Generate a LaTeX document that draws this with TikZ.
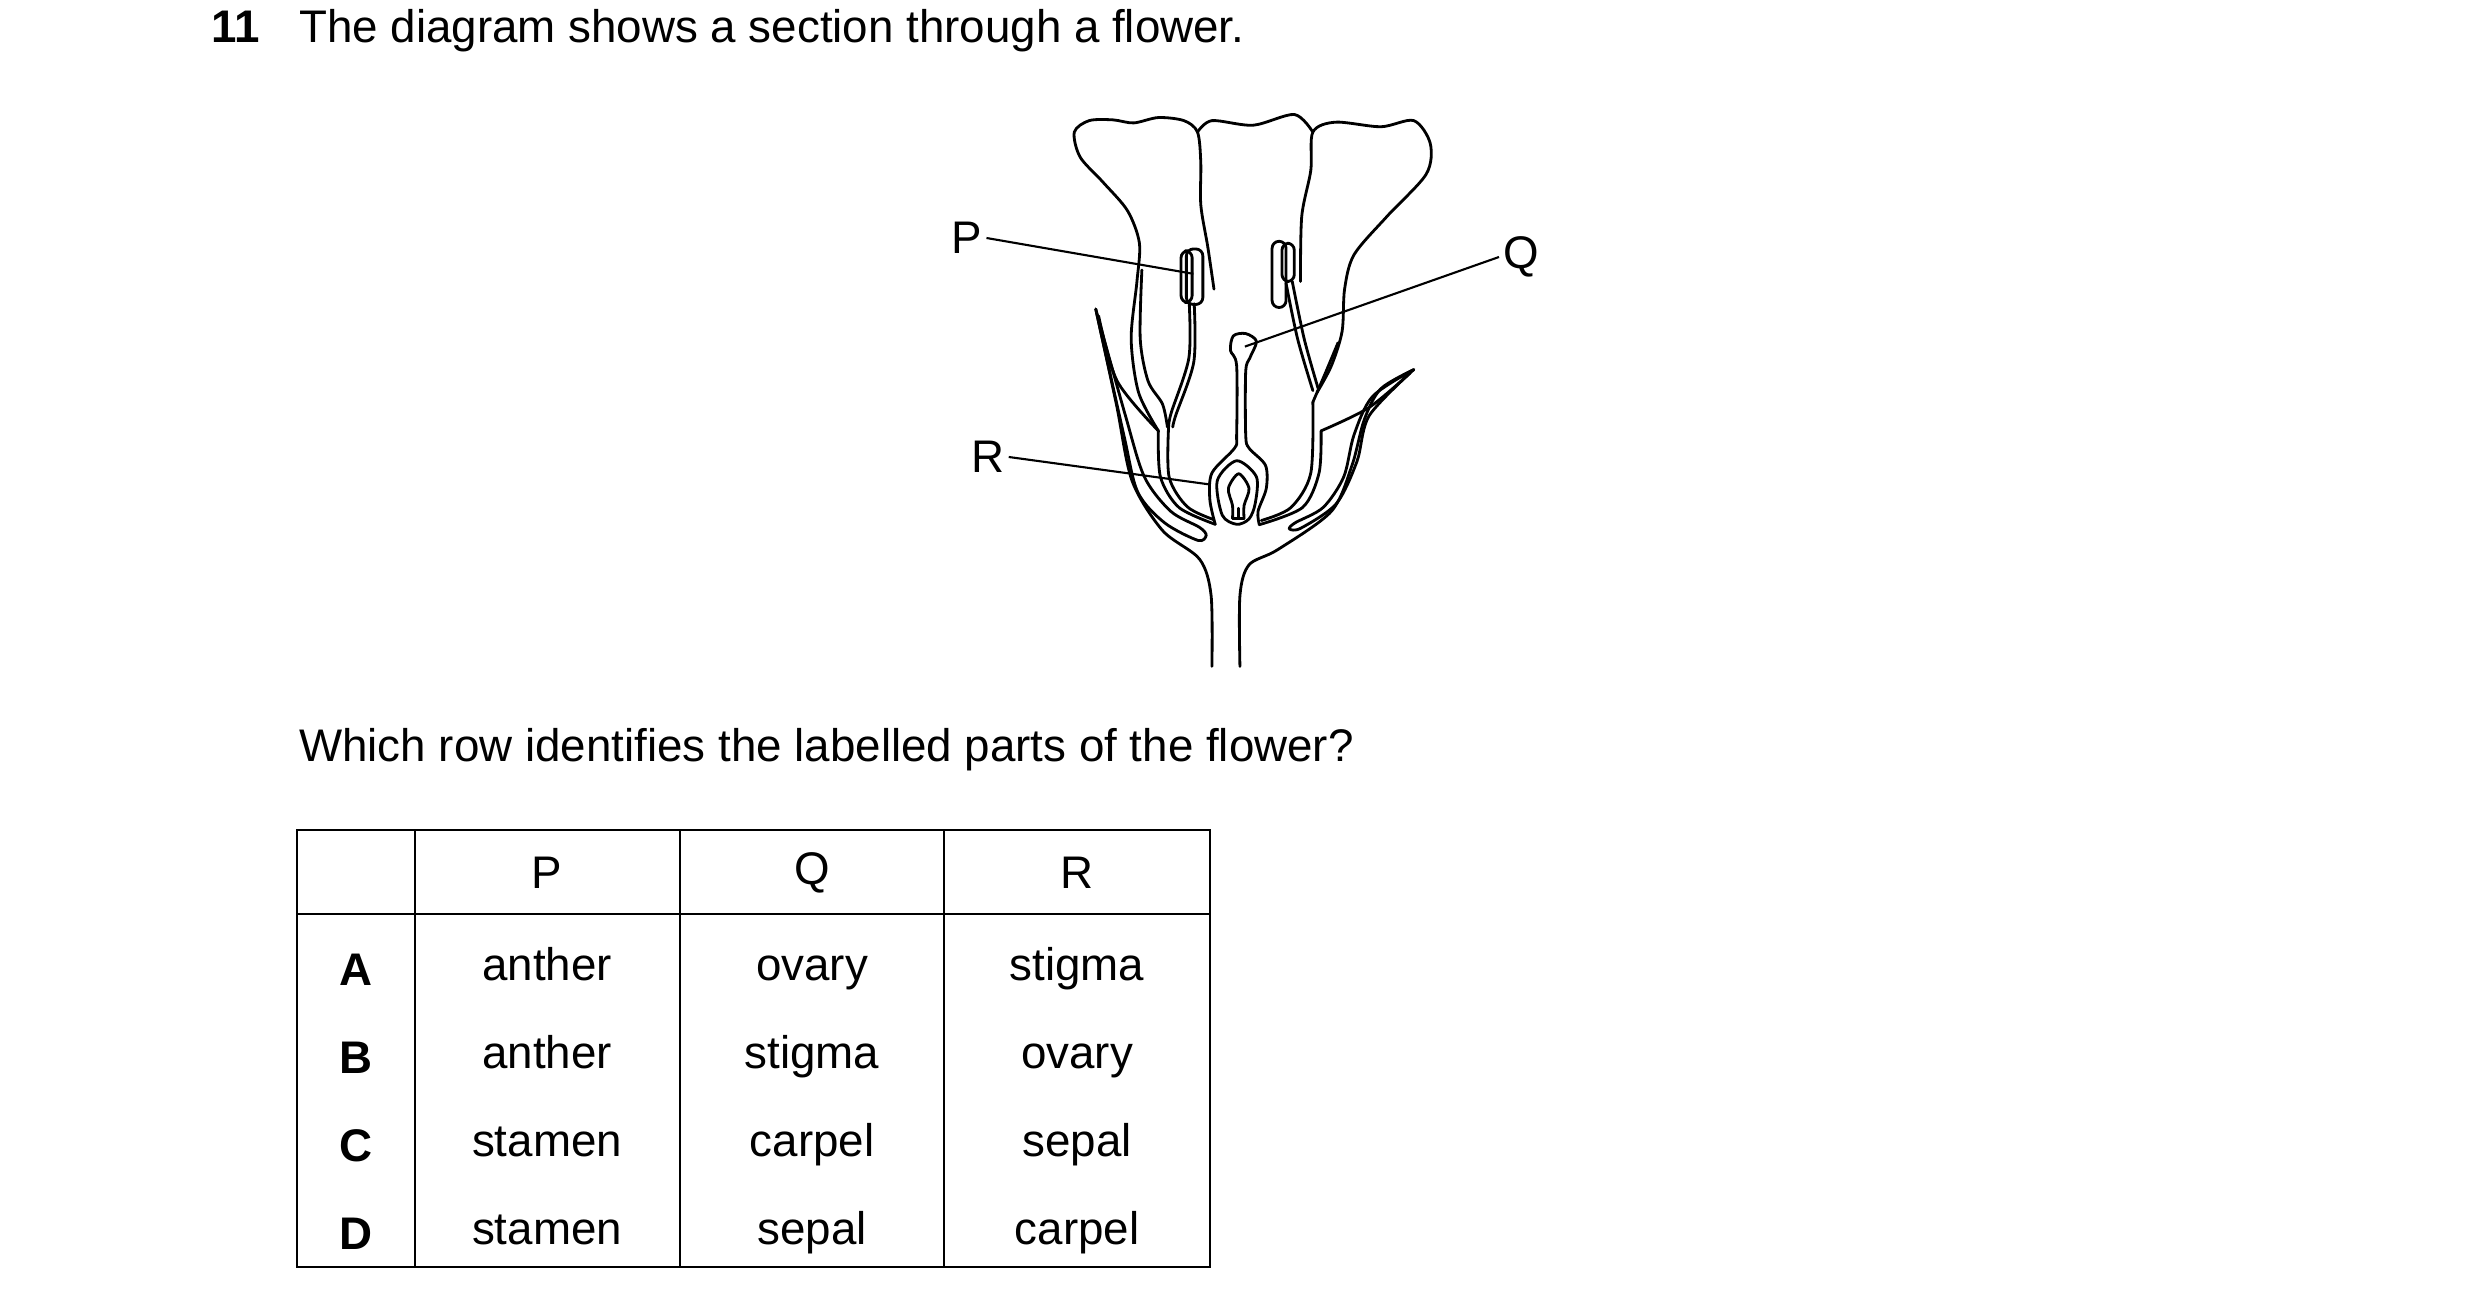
\documentclass[tikz,border=0pt]{standalone}
\usepackage{fontspec}
\setmainfont{Liberation Sans}
\usetikzlibrary{calc}
\tikzset{
    outline/.style = {
        line width=0.8pt,
        line join=round,
        line cap=round,
        },
    leader/.style = {
        line width=0.6pt,
        },
    label/.style = {
        font=\fontsize{13}{15}\selectfont,
        inner sep=1pt,
        },
    cell/.style = {
        font=\fontsize{13}{15}\selectfont,
        anchor=center,
        },
    row/.style = {
        font=\fontsize{13}{15}\selectfont\bfseries,
        anchor=center,
        },
    grid/.style = {
        line width=0.8pt,
        },
}
\begin{document}
\begin{tikzpicture}[x=0.01cm, y=-0.01cm]
    \useasboundingbox (0,0) rectangle (2480,1304);

    % question text
    \node[label, anchor=base west, font=\fontsize{13}{15}\selectfont\bfseries] (num) at (207,43) {11};
    \node[label, anchor=base west] (title) at (295,43) {The diagram shows a section through a flower.};
    \node[label, anchor=base west] (ask) at (295,762) {Which row identifies the labelled parts of the flower?};

    % flower
    \begin{scope}[shift={(940,90)}, xscale=0.412, yscale=0.383]
        % petals
        \draw[outline] plot[smooth] coordinates {(530,890) (482,790) (464,650) (478,500) (484,400) (455,315) (395,240) (340,175) (326,110) (362,80) (420,78) (470,86) (530,72) (592,80) (625,110) (633,190) (633,300) (650,410) (665,520)};
        \draw[outline] plot[smooth] coordinates {(625,110) (660,80) (760,92) (860,64) (905,110)};
        \draw[outline] plot[smooth] coordinates {(875,500) (878,330) (900,210) (905,110) (960,84) (1070,96) (1150,80) (1190,140) (1180,220) (1085,330) (1005,430) (982,520) (976,630) (950,720) (915,790)};
        \draw[outline] plot[smooth] coordinates {(490,470) (486,650) (505,760) (540,820) (552,880)};
        \draw[outline] plot[smooth] coordinates {(966,660) (935,740) (905,815)};
        % bands at petal base
        \draw[outline] plot[smooth] coordinates {(530,890) (535,1010) (580,1090) (668,1134)};
        \draw[outline] plot[smooth] coordinates {(555,875) (556,1010) (600,1088) (665,1122)};
        \draw[outline] plot[smooth] coordinates {(925,890) (920,1000) (880,1090) (775,1135)};
        \draw[outline] plot[smooth] coordinates {(905,815) (900,1000) (852,1090) (780,1124)};
        % stamens
        \draw[outline] plot[smooth] coordinates {(605,558) (604,700) (562,840) (555,875)};
        \draw[outline] plot[smooth] coordinates {(617,558) (616,710) (572,850) (565,880)};
        \draw[outline, rounded corners=2pt] (585,420) rectangle (612,555);
        \draw[outline, rounded corners=2pt] (598,415) rectangle (638,560);
        \draw[outline] plot[smooth] coordinates {(840,505) (868,650) (905,785)};
        \draw[outline] plot[smooth] coordinates {(855,500) (884,650) (918,780)};
        \draw[outline, rounded corners=2pt] (830,400) rectangle (860,500);
        \draw[outline, rounded corners=2pt] (806,395) rectangle (840,568);
        % carpel
        \draw[outline] plot[smooth] coordinates {(668,1134) (655,1070) (660,1000) (715,935) (720,900) (720,720) (705,680) (712,642) (742,636) (768,656) (752,700) (742,735) (742,900) (750,935) (790,980) (792,1040) (772,1100) (775,1135)};
        \draw[outline] plot[smooth cycle] coordinates {(685,1110) (673,1020) (720,968) (768,1010) (765,1080) (750,1120) (720,1134)};
        \draw[outline] plot[smooth] coordinates {(710,1118) (710,1085) (700,1040) (725,1002) (750,1040) (738,1085) (738,1118)};
        \draw[outline] (710,1118) -- (738,1118);
        \draw[outline] (724,1118) -- (724,1092);
        % sepals and stalk
        \draw[outline] plot[smooth] coordinates {(378,572) (428,820) (466,1020) (540,1150) (630,1225) (658,1320) (660,1505)};
        \draw[outline] plot[smooth] coordinates {(378,572) (450,850) (496,1010) (560,1100) (630,1142) (646,1163) (626,1176) (545,1130) (480,1050) (446,900) (378,572)};
        \draw[outline] plot[smooth] coordinates {(385,590) (430,760) (530,890)};
        \draw[outline] plot[smooth] coordinates {(1150,730) (1070,780) (1030,860) (1000,980) (950,1100) (820,1200) (750,1240) (728,1320) (728,1505)};
        \draw[outline] plot[smooth] coordinates {(1150,730) (1050,800) (1005,900) (980,1010) (930,1090) (862,1130) (848,1146) (876,1144) (962,1080) (1012,970) (1042,850) (1150,730)};
        \draw[outline] plot[smooth] coordinates {(1140,740) (1040,830) (925,890)};
        % ends of leader lines
        \coordinate (antherTip) at (615,480);
        \coordinate (stigmaTip) at (740,670);
        \coordinate (ovaryTip) at (655,1030);
    \end{scope}

    % labels
    \node[label] (P) at (967,238) {P};
    \node[label] (Q) at (1521,257) {Q};
    \node[label] (R) at (988,457) {R};
    \draw[leader] (P.east) -- (antherTip);
    \draw[leader] (Q.west) -- (stigmaTip);
    \draw[leader] (R.east) -- (ovaryTip);

    % table
    \draw[grid] (297,830) rectangle (1210,1267);
    \draw[grid] (297,914) -- (1210,914);
    \foreach \x in {415,680,944} {
        \draw[grid] (\x,830) -- (\x,1267);
    }
    \node[cell] (hP) at (547,873) {P};
    \node[cell] (hQ) at (812,873) {Q};
    \node[cell] (hR) at (1077,873) {R};
    \foreach \y/\r/\p/\q/\s in {970/A/anther/ovary/stigma, 1058/B/anther/stigma/ovary, 1146/C/stamen/carpel/sepal, 1234/D/stamen/sepal/carpel} {
        \node[row] (row\r) at (356,\y) {\r};
        \node[cell] (p\r) at (547,\y) {\strut\p};
        \node[cell] (q\r) at (812,\y) {\strut\q};
        \node[cell] (s\r) at (1077,\y) {\strut\s};
    }
\end{tikzpicture}
\end{document}
